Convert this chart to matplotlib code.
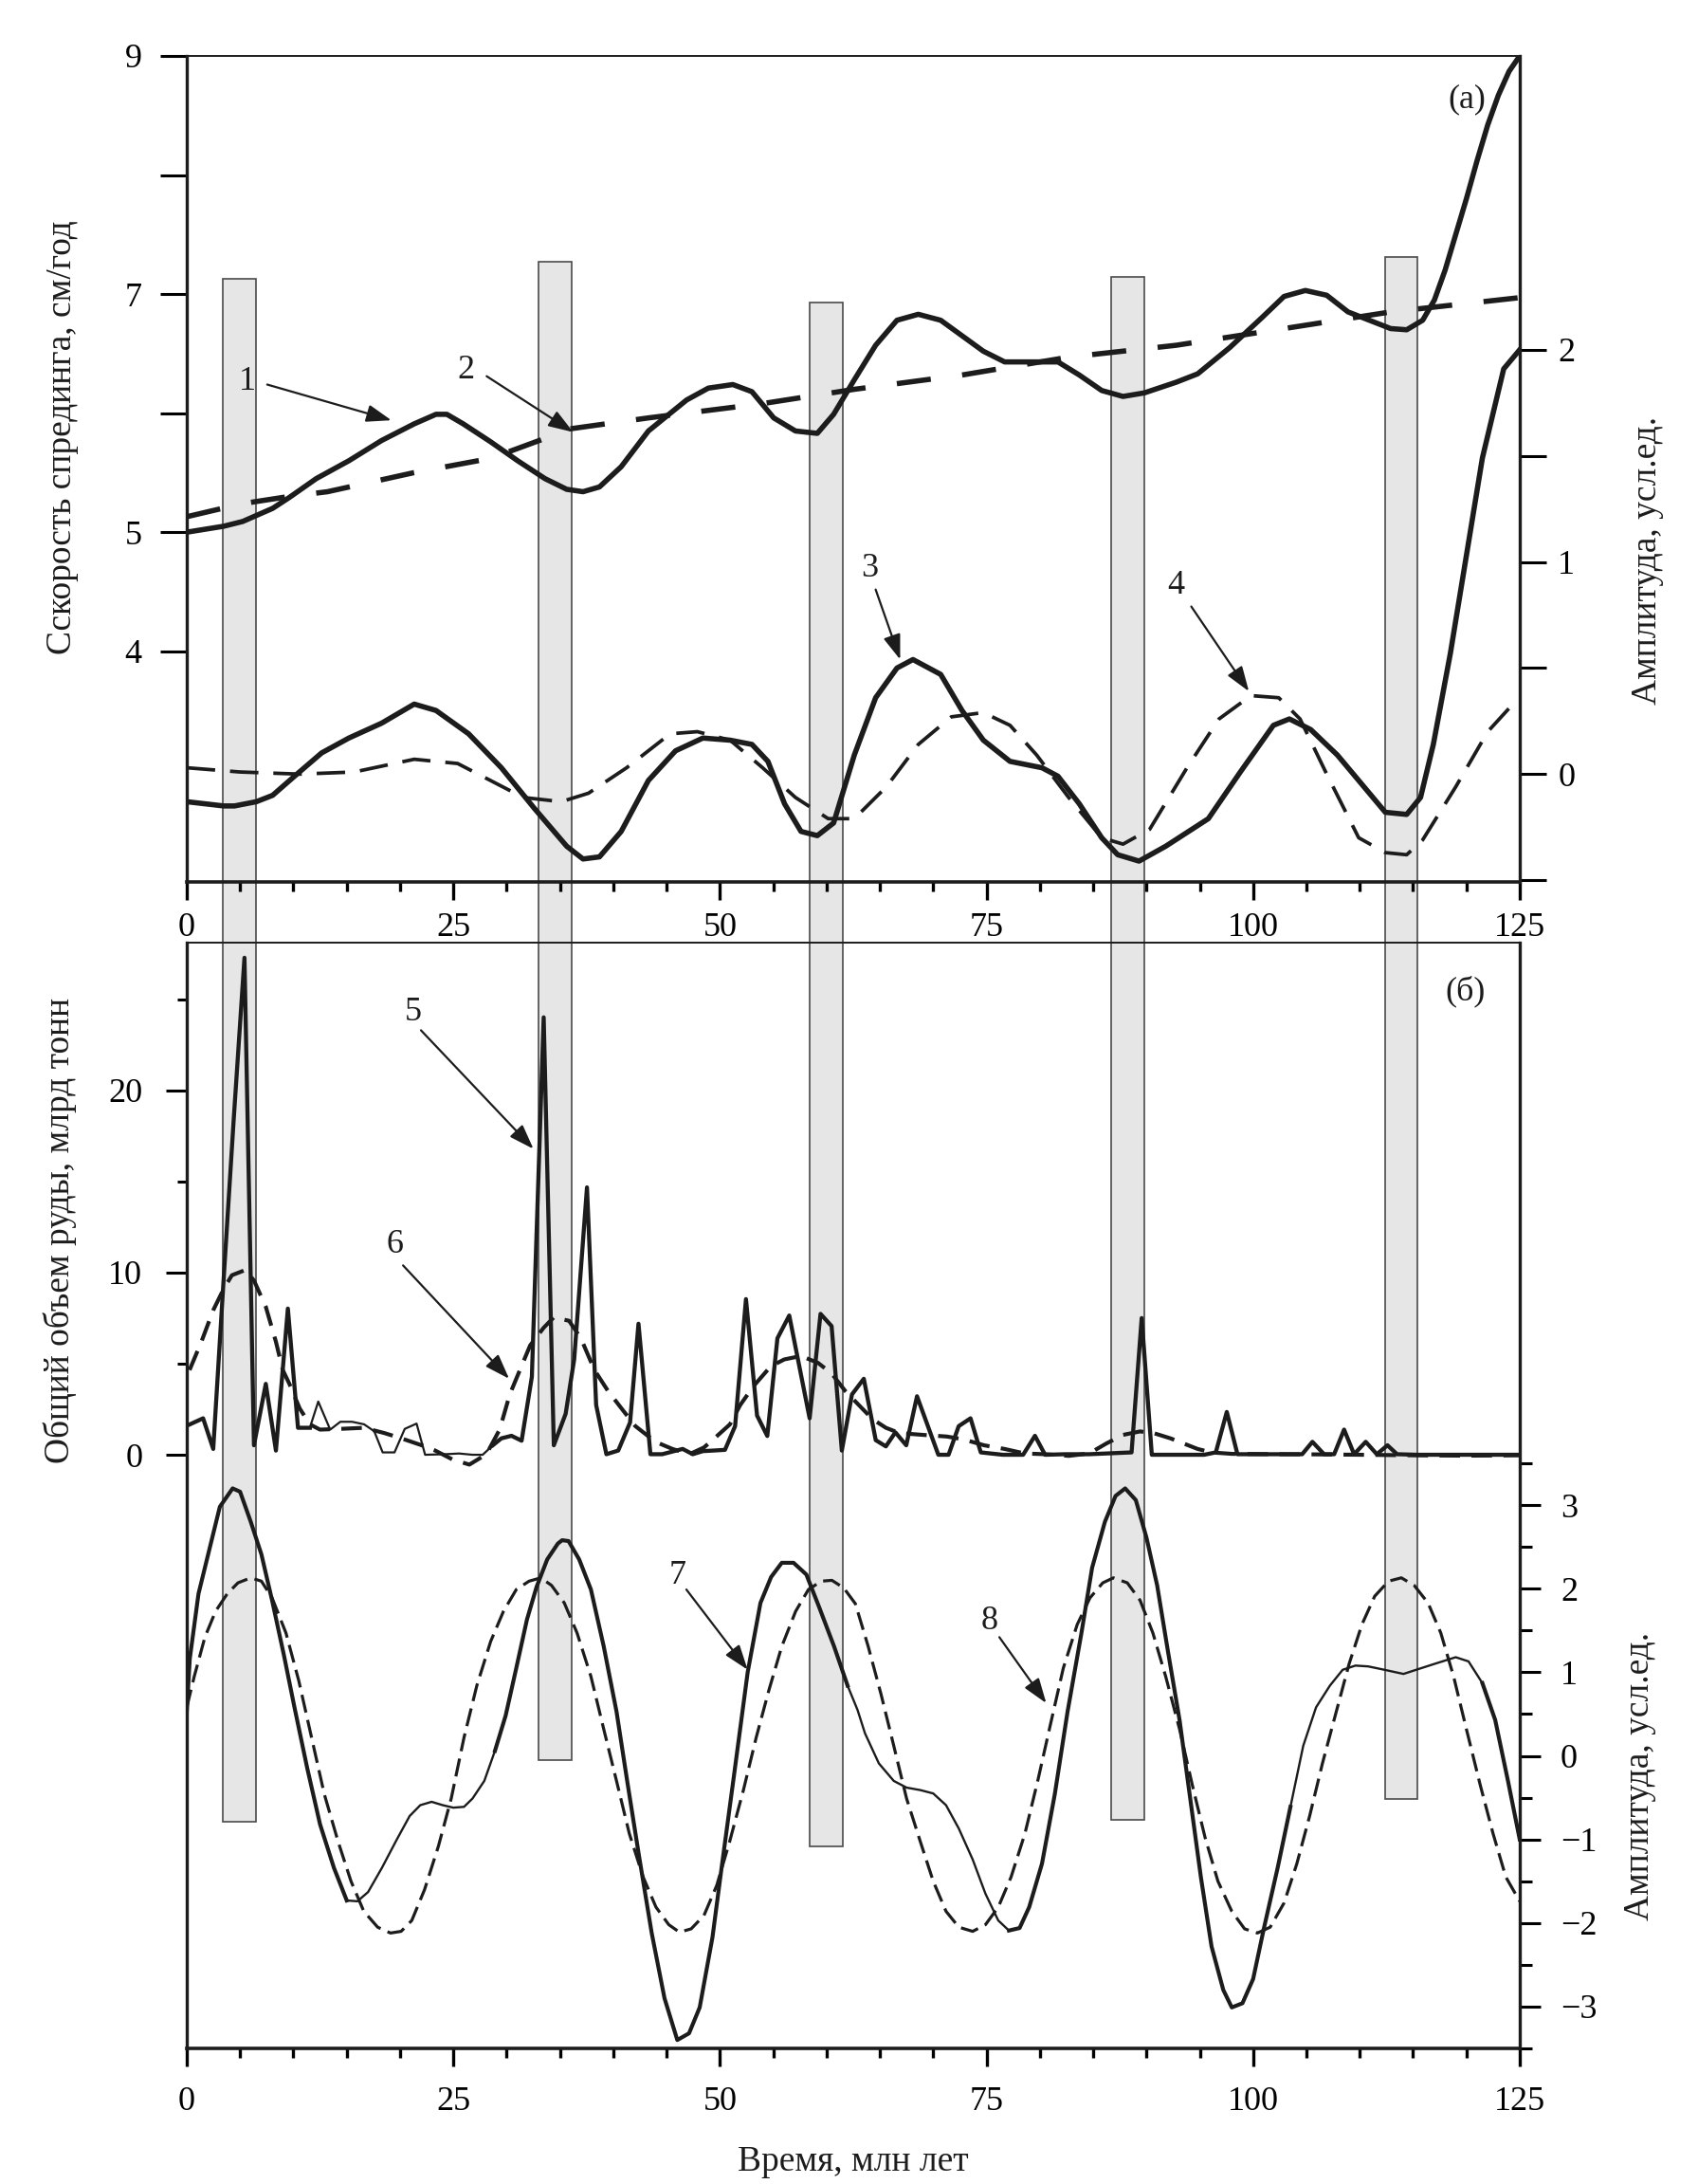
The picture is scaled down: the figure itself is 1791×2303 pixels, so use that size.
import matplotlib
matplotlib.use("Agg")
from matplotlib import pyplot as plt
from matplotlib.patches import Rectangle
import numpy as np

plt.rcParams['font.family'] = ['Liberation Serif', 'DejaVu Serif']
plt.rcParams['font.size'] = 26
plt.rcParams['xtick.labelsize'] = 26
plt.rcParams['ytick.labelsize'] = 26

INK = '#1c1c1c'

# ---- panel (а): spreading rate, cm/yr (left axis) ----
rate_t = [0, 3.46, 5.24, 8.05, 9.59, 12.14, 15.2, 18.27, 21.33, 23.37, 24.39, 25.92,
          28.48, 31.03, 33.59, 35.63, 37.16, 38.7, 40.74, 43.29, 46.87, 48.91, 51.21,
          53.0, 55.04, 57.08, 59.13, 60.66, 62.6, 64.6, 66.6, 68.6, 70.7, 72.7, 74.7,
          76.7, 78.7, 81.7, 83.7, 85.8, 87.8, 89.8, 92.8, 94.8, 97.8, 100.8, 102.9,
          104.9, 106.9, 108.9, 110.9, 112.9, 114.4, 115.9, 117, 118, 119, 120, 121,
          122, 123, 124, 125]
rate = [5.0, 5.05, 5.09, 5.2, 5.29, 5.45, 5.6, 5.77, 5.91, 5.99, 5.99, 5.91,
        5.76, 5.6, 5.45, 5.36, 5.34, 5.38, 5.55, 5.85, 6.11, 6.21, 6.24,
        6.18, 5.96, 5.85, 5.83, 5.99, 6.28, 6.57, 6.78, 6.83, 6.78, 6.65, 6.52,
        6.43, 6.43, 6.43, 6.32, 6.19, 6.14, 6.17, 6.26, 6.33, 6.55, 6.8, 6.98,
        7.03, 6.99, 6.85, 6.78, 6.71, 6.70, 6.78, 6.95, 7.2, 7.5, 7.8, 8.12,
        8.42, 8.67, 8.87, 9.0]

trend_t = [0, 5.24, 9.59, 13.2, 21.3, 28.5, 36.1, 43.3, 54.0, 62.6, 72.7, 82.7,
           92.8, 102.9, 112.9, 125]
trend = [5.13, 5.24, 5.3, 5.34, 5.5, 5.62, 5.87, 5.96, 6.08, 6.2, 6.32, 6.47,
         6.57, 6.71, 6.85, 6.97]

# ---- panel (а): amplitudes (right axis) ----
amp3_t = [0, 3.46, 4.48, 6.52, 8.05, 10.1, 12.65, 15.2, 18.27, 21.33, 23.37, 26.43,
          29.5, 32.57, 35.63, 37.16, 38.7, 40.74, 43.29, 45.84, 48.4, 50.95, 53.0,
          54.5, 56.06, 57.6, 59.13, 60.66, 62.6, 64.6, 66.6, 68.1, 70.7, 72.7, 74.7,
          77.2, 80.2, 81.7, 83.7, 85.8, 87.3, 89.3, 91.8, 95.8, 98.8, 101.9, 103.4,
          105.4, 107.9, 110.4, 112.4, 114.4, 115.7, 116.9, 118.5, 120.0, 121.5,
          123.5, 125.0]
amp3 = [-0.13, -0.15, -0.15, -0.13, -0.1, -0.01, 0.1, 0.17, 0.24, 0.33, 0.3, 0.19,
        0.03, -0.16, -0.34, -0.4, -0.39, -0.27, -0.03, 0.11, 0.17, 0.16, 0.14,
        0.06, -0.14, -0.27, -0.29, -0.23, 0.09, 0.36, 0.5, 0.54, 0.47, 0.3, 0.16,
        0.06, 0.03, -0.01, -0.14, -0.3, -0.38, -0.41, -0.34, -0.21, 0.01, 0.23, 0.26,
        0.21, 0.09, -0.06, -0.18, -0.19, -0.11, 0.14, 0.57, 1.03, 1.49,
        1.91, 2.0]

amp4_t = [0, 4.99, 10.6, 15.7, 21.33, 25.4, 28.48, 31.55, 35.12, 37.67, 41.25, 45.33,
          47.88, 50.95, 54.0, 57.08, 60.15, 62.6, 65.6, 68.6, 71.7, 74.7, 77.2, 79.7,
          82.7, 85.8, 87.8, 90.3, 93.8, 96.8, 99.8, 102.4, 104.4, 106.9, 109.9, 112.4,
          114.4, 115.9, 119.0, 122.0, 124.0]
amp4 = [0.03, 0.01, 0.0, 0.01, 0.07, 0.05, -0.03, -0.11, -0.13, -0.09, 0.03, 0.19,
        0.2, 0.16, 0.03, -0.11, -0.21, -0.21, -0.06, 0.14, 0.27, 0.29, 0.23, 0.09,
        -0.11, -0.3, -0.33, -0.26, 0.03, 0.26, 0.37, 0.36, 0.26, 0.0, -0.3, -0.37,
        -0.38, -0.31, -0.06, 0.2, 0.31]

# ---- panel (б): ore volume, bln t (left axis) ----
ore_t = [0.26, 1.53, 2.48, 3.44, 4.4, 5.41, 6.3, 7.41, 8.36, 9.48, 10.43, 11.54, 12.33,
         13.45, 14.4, 15.5, 16.63, 17.58, 18.37, 19.48, 20.44, 21.55, 22.35, 24.25,
         25.52, 26.79, 27.75, 28.7, 29.5, 30.45, 31.4, 32.36, 33.47, 34.42, 35.53,
         36.33, 37.53, 38.39, 39.35, 40.46, 41.57, 42.36, 43.48, 44.59, 46.5, 47.45,
         48.4, 49.35, 50.47, 51.42, 52.44, 53.48, 54.44, 55.39, 56.5, 58.41, 59.43,
         60.47, 61.43, 62.38, 63.49, 64.61, 65.56, 66.45, 67.47, 68.48, 70.48, 71.44,
         72.39, 73.5, 74.46, 76.52, 78.43, 79.54, 80.49, 82.4, 84.62, 88.6, 89.55,
         90.5, 93.5, 95.4, 96.5, 97.53, 98.53, 100.7, 103.2, 104.6, 105.56, 106.65,
         107.6, 108.53, 109.47, 110.56, 111.6, 112.6, 113.5, 115.4, 125]
ore = [1.66, 2.0, 0.32, 9.47, 18.4, 27.27, 0.52, 3.89, 0.23, 8.02, 1.48, 1.48, 2.92,
       1.38, 1.81, 1.81, 1.67, 1.29, 0.13, 0.13, 1.42, 1.71, 0.0, 0.03,
       0.07, 0.0, 0.0, 0.52, 0.9, 1.04, 0.77, 4.27, 24.0, 0.52, 2.25,
       5.23, 14.67, 2.73, 0.03, 0.23, 1.77, 7.19, 0.03, 0.03, 0.32, 0.03,
       0.2, 0.23, 0.27, 1.57, 8.54, 2.15, 1.03, 6.39, 7.64, 2.0, 7.73,
       7.06, 0.23, 3.31, 4.17, 0.8, 0.46, 1.23, 0.52, 3.21, 0.0, 0.0,
       1.57, 2.0, 0.13, 0.0, 0.0, 1.04, 0.0, 0.03, 0.03, 0.13, 7.5,
       0.0, 0.0, 0.0, 0.13, 2.35, 0.03, 0.03, 0.03, 0.03, 0.71, 0.03,
       0.03, 1.38, 0.03, 0.71, 0.03, 0.52, 0.03, 0.0, 0.0]

ore_avg_t = [0.26, 1.37, 2.48, 3.44, 4.23, 5.5, 6.3, 7.41, 8.36, 9.0, 9.63, 10.59, 11.54,
             12.49, 14.4, 16.63, 18.53, 20.12, 22.03, 23.3, 24.89, 26.5, 28.1, 29.34,
             30.29, 31.24, 32.2, 33.47, 34.42, 35.85, 36.96, 38.23, 39.5, 40.77, 42.05,
             43.95, 45.54, 47.13, 48.5, 49.67, 50.94, 51.9, 53.17, 54.76, 56.03, 57.6,
             59.2, 60.47, 61.75, 63.02, 64.3, 65.56, 66.83, 69.05, 71.28, 72.87, 74.77,
             76.68, 78.59, 80.49, 82.72, 84.62, 86.21, 87.8, 89.39, 90.66, 92.25, 93.52,
             94.79, 96.07, 98, 102, 106, 110, 115, 120, 125]
ore_avg = [4.65, 6.2, 7.93, 9.08, 9.85, 10.14, 9.56, 8.12, 6.2, 4.65, 3.88, 2.54, 1.67,
           1.38, 1.42, 1.48, 1.19, 0.9, 0.52, 0.23, -0.25, -0.54, 0.03, 1.38,
           3.31, 4.65, 6.0, 6.97, 7.54, 7.35, 6.39, 4.65, 3.5, 2.54, 1.58,
           0.71, 0.32, 0.03, 0.4, 1.0, 1.67, 2.73, 3.78, 4.85, 5.23, 5.42,
           5.04, 4.46, 3.5, 2.73, 1.96, 1.48, 1.19, 1.09, 1.0, 0.84, 0.52,
           0.32, 0.07, 0.03, -0.06, 0.07, 0.61, 1.09, 1.28, 1.19, 0.9, 0.61,
           0.32, 0.13, 0.05, 0.03, 0.02, 0.0, -0.03, -0.05, -0.03]

# ---- panel (б): amplitudes (right axis) ----
amp7_t = [0, 0.28, 1.1, 2.1, 3.1, 4.3, 5.0, 6.0, 7.0, 8.0, 9.1, 10.1, 11.3, 12.5, 13.8,
          15.0, 16.0, 17.0, 18.3, 19.7, 20.9, 21.9, 22.96, 24.0, 25.0, 26.0, 26.8, 27.9,
          28.9, 29.9, 30.9, 31.9, 32.8, 33.8, 34.8, 35.2, 35.8, 36.8, 37.9, 39.1, 40.3,
          41.3, 42.4, 43.6, 44.8, 46.0, 47.1, 48.1, 49.3, 50.1, 51.3, 52.6, 53.8, 54.8,
          55.8, 56.9, 58.1, 59.3, 60.7, 61.97, 62.9, 63.6, 64.9, 66.3, 67.5, 68.8, 70.0,
          71.2, 72.4, 73.7, 74.9, 76.1, 77.1, 78.1, 79.0, 80.2, 81.4, 82.6, 83.9, 84.9,
          86.1, 87.1, 88.0, 89.0, 90.0, 91.0, 92.0, 93.1, 94.1, 95.1, 96.1, 97.2, 98.0,
          99.0, 100.0, 101.0, 102.3, 103.5, 104.7, 105.9, 107.2, 108.4, 109.6, 110.8,
          112.3, 114.1, 115.3, 117.0, 119.0, 120.2, 121.5, 122.7, 123.9, 125.0]
amp7 = [0.53, 1.16, 1.94, 2.46, 2.98, 3.2, 3.16, 2.8, 2.41, 1.86, 1.21, 0.58, -0.15, -0.82,
        -1.34, -1.73, -1.74, -1.63, -1.34, -1.0, -0.72, -0.59, -0.55, -0.59, -0.62, -0.61,
        -0.51, -0.3, 0.06, 0.48, 1.05, 1.63, 2.02, 2.35, 2.54, 2.58, 2.57, 2.35, 1.99,
        1.31, 0.53, -0.3, -1.19, -2.12, -2.9, -3.4, -3.32, -3.01, -2.17, -1.39, -0.25,
        1.0, 1.83, 2.14, 2.31, 2.31, 2.17, 1.78, 1.31, 0.84, 0.55, 0.27, -0.09, -0.3,
        -0.38, -0.41, -0.45, -0.59, -0.87, -1.24, -1.65, -1.97, -2.09, -2.06, -1.81,
        -1.29, -0.46, 0.53, 1.47, 2.25, 2.8, 3.11, 3.2, 3.06, 2.61, 2.04, 1.26, 0.43,
        -0.51, -1.45, -2.28, -2.8, -3.01, -2.96, -2.67, -2.07, -1.34, -0.61, 0.12, 0.58,
        0.84, 1.03, 1.08, 1.07, 1.03, 0.98, 1.03, 1.1, 1.18, 1.13, 0.87, 0.43, -0.3,
        -1.0]

amp8_t = [0, 0.7, 1.7, 2.7, 3.8, 4.8, 6.0, 7.0, 8.0, 9.3, 10.5, 11.7, 12.9, 14.2, 15.4,
          16.6, 17.9, 19.1, 20.1, 21.1, 22.3, 23.6, 24.8, 26.0, 27.2, 28.5, 29.7, 30.9,
          32.1, 33.2, 34.2, 35.4, 36.6, 37.9, 39.1, 40.3, 41.5, 42.8, 44.0, 45.2, 46.2,
          47.3, 48.5, 49.7, 50.9, 52.2, 53.4, 54.6, 55.8, 57.1, 58.3, 59.5, 60.5, 61.6,
          62.7, 63.9, 65.1, 66.3, 67.5, 68.8, 70.0, 71.2, 72.4, 73.7, 74.9, 76.1, 77.3,
          78.6, 79.8, 81.0, 82.2, 83.5, 84.7, 85.9, 86.9, 88.2, 89.4, 90.6, 91.8, 93.1,
          94.3, 95.5, 96.7, 98.0, 99.2, 100.4, 101.6, 102.9, 104.1, 105.3, 106.5, 107.8,
          109.0, 110.2, 111.4, 112.7, 113.9, 115.1, 116.4, 117.6, 118.8, 120.0, 121.3,
          122.5, 123.7, 125.0]
amp8 = [0.58, 0.95, 1.42, 1.73, 1.94, 2.07, 2.13, 2.09, 1.89, 1.47, 0.9, 0.22, -0.46,
        -1.03, -1.5, -1.86, -2.05, -2.12, -2.1, -1.97, -1.6, -1.08, -0.51, 0.22, 0.84,
        1.37, 1.73, 1.99, 2.09, 2.13, 2.04, 1.83, 1.47, 0.95, 0.32, -0.3, -0.93, -1.45,
        -1.81, -2.02, -2.11, -2.07, -1.91, -1.55, -1.03, -0.41, 0.22, 0.79, 1.31, 1.73,
        1.99, 2.09, 2.1, 2.01, 1.82, 1.31, 0.74, 0.12, -0.51, -1.03, -1.5, -1.86, -2.05,
        -2.1, -2.02, -1.81, -1.45, -0.93, -0.3, 0.38, 1.05, 1.57, 1.89, 2.07, 2.13, 2.07,
        1.86, 1.47, 0.95, 0.32, -0.35, -0.98, -1.5, -1.86, -2.07, -2.12, -2.05, -1.76,
        -1.29, -0.72, -0.09, 0.53, 1.1, 1.57, 1.91, 2.09, 2.13, 2.04, 1.83, 1.47, 0.95,
        0.32, -0.35, -0.93, -1.45, -1.74]

# shaded intervals, Myr; tops in rate units, bottoms in lower-amplitude units
band_start = [3.4, 33.0, 58.4, 86.7, 112.4]
band_end = [6.5, 36.1, 61.5, 89.8, 115.4]
band_top = [7.13, 7.27, 6.93, 7.14, 7.31]
band_bottom = [-0.79, -0.05, -1.08, -0.77, -0.52]


def plot_var_width(ax, t, y, thin_ranges, lw_thick, lw_thin, **kw):
    t = np.asarray(t, float)
    y = np.asarray(y, float)
    ax.plot(t, y, lw=lw_thin, color=INK, solid_joinstyle='round', **kw)
    thin = np.zeros(len(t), bool)
    for a, b in thin_ranges:
        thin |= (t > a) & (t < b)
    ax.plot(t, np.where(thin, np.nan, y), lw=lw_thick, color=INK,
            solid_joinstyle='round', **kw)


def mark(ax, txt, text_xy, tail, head):
    ax.text(text_xy[0], text_xy[1], txt, ha='center', va='center', fontsize=26, color=INK)
    ax.annotate('', xy=head, xytext=tail,
                arrowprops=dict(arrowstyle='-|>,head_length=0.8,head_width=0.28',
                                lw=1.6, color=INK, shrinkA=0, shrinkB=0,
                                mutation_scale=20))


def style_x(ax, pad):
    ax.set_xlim(0, 125)
    ax.set_xticks(np.arange(0, 126, 25))
    ax.set_xticks(np.arange(0, 126, 5), minor=True)
    ax.tick_params(axis='x', which='major', direction='out', length=14, width=2.4, pad=pad)
    ax.tick_params(axis='x', which='minor', direction='out', length=7, width=2.4)


fig = plt.figure(figsize=(17.91, 23.03), dpi=100)
L, W = 0.1100, 0.7850

# ---------------- panel (а) ----------------
ax1 = fig.add_axes([L, 0.5962, W, 0.3782])
ax1r = ax1.twinx()
ax1.patch.set_visible(False)
ax1.set_ylim(2.063, 9.0)
ax1r.set_ylim(-0.508, 3.385)
style_x(ax1, 9)

ax1.set_yticks([4, 5, 7, 9])
ax1.set_yticks([6, 8], minor=True)
ax1.tick_params(axis='y', which='both', direction='out', length=20, width=2.2, pad=14)
ax1r.set_yticks([0, 1, 2])
ax1r.set_yticks([-0.5, 0.5, 1.5], minor=True)
ax1r.tick_params(axis='y', which='both', direction='out', length=20, width=2.2, pad=9)

ax1.plot(rate_t, rate, color=INK, lw=4.0, solid_joinstyle='round')
ax1.plot(trend_t, trend, color=INK, lw=4.0, dashes=(6.5, 6.0))
ax1r.plot(amp3_t, amp3, color=INK, lw=4.0, solid_joinstyle='round')
ax1r.plot(amp4_t, amp4, color=INK, lw=2.7, dashes=(8.0, 4.2))

mark(ax1, '1', (5.65, 6.26), (7.54, 6.24), (19.19, 5.94))
mark(ax1, '2', (26.18, 6.36), (28.12, 6.31), (36.24, 5.84))
mark(ax1r, '3', (64.0, 0.97), (64.6, 0.87), (66.9, 0.54))
mark(ax1r, '4', (92.8, 0.89), (94.2, 0.79), (99.6, 0.39))

# ---------------- panel (б) ----------------
ax2 = fig.add_axes([L, 0.0621, W, 0.5063])
ax2r = ax2.twinx()
ax2.patch.set_visible(False)
ax2.set_ylim(-32.57, 28.1)
ax2r.set_ylim(-3.49, 9.73)
style_x(ax2, 15)

ax2.set_yticks([0, 10, 20])
ax2.set_yticks([5, 15, 25], minor=True)
ax2.tick_params(axis='y', which='major', direction='out', length=15.6, width=2.2, pad=18)
ax2.tick_params(axis='y', which='minor', direction='out', length=7.2, width=2.2)
ax2r.set_yticks(np.arange(-3, 4, 1))
ax2r.set_yticks(np.arange(-3.5, 3.6, 1.0), minor=True)
ax2r.tick_params(axis='y', which='major', direction='out', length=16, width=2.2, pad=15)
ax2r.tick_params(axis='y', which='minor', direction='out', length=9, width=2.2)

plot_var_width(ax2, ore_t, ore, [(12.0, 28.5)], 3.1, 1.6)
ax2.plot(ore_avg_t, ore_avg, color=INK, lw=3.0, dashes=(5.2, 2.9))
plot_var_width(ax2r, amp7_t, amp7, [(15.5, 28.5), (62.0, 76.5), (104.5, 120.5)], 3.0, 1.7)
ax2r.plot(amp8_t, amp8, color=INK, lw=2.3, dashes=(6.0, 2.5))

mark(ax2, '5', (21.27, 24.25), (21.96, 23.29), (32.51, 16.78))
mark(ax2, '6', (19.5, 11.54), (20.28, 10.39), (30.23, 4.17))
mark(ax2r, '7', (46.0, 2.16), (46.85, 1.99), (52.6, 1.03))
mark(ax2r, '8', (75.3, 1.61), (76.2, 1.42), (80.6, 0.63))

# spines
for a, ar in ((ax1, ax1r), (ax2, ax2r)):
    a.spines['right'].set_visible(False)
    a.spines['left'].set_linewidth(2.4)
    a.spines['bottom'].set_linewidth(2.6)
    a.spines['top'].set_linewidth(1.4)
    for s in ('left', 'top', 'bottom'):
        ar.spines[s].set_visible(False)
    ar.spines['right'].set_linewidth(2.4)
    for sp in list(a.spines.values()) + list(ar.spines.values()):
        sp.set_color(INK)

# grey intervals running through both panels
to_fig = fig.transFigure.inverted()
for x0, x1, top, bot in zip(band_start, band_end, band_top, band_bottom):
    fx0, fy1 = to_fig.transform(ax1.transData.transform((x0, top)))
    fx1, _ = to_fig.transform(ax1.transData.transform((x1, top)))
    _, fy0 = to_fig.transform(ax2r.transData.transform((x0, bot)))
    fig.patches.append(Rectangle((fx0, fy0), fx1 - fx0, fy1 - fy0, transform=fig.transFigure,
                                 facecolor='#e6e6e6', edgecolor='#4a4a4a', lw=1.2, zorder=-1))

fig.text(0.8638, 0.9544, '(а)', ha='center', va='center', fontsize=26, color=INK)
fig.text(0.8632, 0.5460, '(б)', ha='center', va='center', fontsize=26, color=INK)

fig.text(0.0369, 0.7998, 'Сскорость спрединга, см/год', rotation=90, ha='center', va='center',
         fontsize=27, color=INK)
fig.text(0.0355, 0.4368, 'Общий объем руды, млрд тонн', rotation=90, ha='center', va='center',
         fontsize=27, color=INK)
fig.text(0.9704, 0.7434, 'Амплитуда, усл.ед.', rotation=90, ha='center', va='center',
         fontsize=27, color=INK)
fig.text(0.9660, 0.1867, 'Амплитуда, усл.ед.', rotation=90, ha='center', va='center',
         fontsize=27, color=INK)
fig.text(0.5025, 0.0100, 'Время, млн лет', ha='center', va='center', fontsize=27, color=INK)

fig.savefig('out.png', dpi=100)
